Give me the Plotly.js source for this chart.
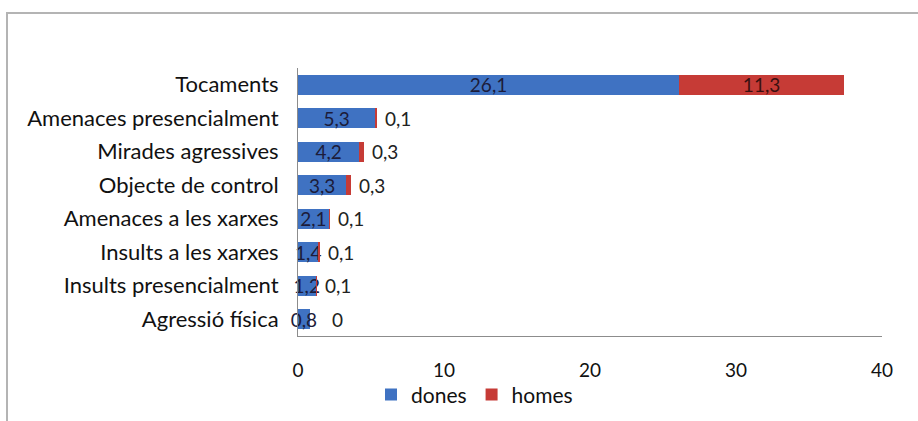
<!DOCTYPE html>
<html><head><meta charset="utf-8">
<script src="https://cdn.plot.ly/plotly-3.0.1.min.js"></script>
<style>
body{margin:0;background:#fff;}
#wrap{position:absolute;left:6px;top:12px;width:912px;height:409px;border-left:2px solid #b4b4b4;border-top:2px solid #b4b4b4;}
#chart{width:910px;height:407px;}
</style></head>
<body><div id="wrap"><div id="chart"></div></div>
<script>
const categories = ["Tocaments","Amenaces presencialment","Mirades agressives","Objecte de control","Amenaces a les xarxes","Insults a les xarxes","Insults presencialment","Agressió física"];
const dones = [26.1,5.3,4.2,3.3,2.1,1.4,1.2,0.8];
const homes = [11.3,0.1,0.3,0.3,0.1,0.1,0.1,0];
const fmt = v => String(v).replace('.', ',');
const font = "Lato, 'Open Sans', sans-serif";
const numSize = 19;
const traces = [
 {type:'bar', orientation:'h', name:'dones', y:categories, x:dones,
  marker:{color:'#3f72c2'}, text:dones.map(fmt), textposition:'inside',
  insidetextanchor:'middle', textangle:0, constraintext:'none', cliponaxis:false,
  textfont:{family:font,size:numSize,color:'#1c1c3a'}, hoverinfo:'x+y'},
 {type:'bar', orientation:'h', name:'homes', y:categories, x:homes,
  marker:{color:'#c63b36'}, text:homes.map((v,i)=> i===0 ? fmt(v) : ''),
  textposition:'inside', insidetextanchor:'middle', textangle:0, constraintext:'none', cliponaxis:false,
  textfont:{family:font,size:numSize,color:'#3a1010'}, hoverinfo:'x+y'}
];
// labels of small "homes" segments sit just right of the stack end
const annotations = categories.slice(1).map((c,k)=>{
  const i = k+1;
  return {x: dones[i]+homes[i], y: c, xref:'x', yref:'y', text: fmt(homes[i]),
    showarrow:false, xanchor:'left', yanchor:'middle', xshift: i===7 ? 20 : 6,
    font:{family:font,size:numSize,color:'#222'}};
});
const layout = {
 barmode:'stack', bargap:0.4,
 width:910, height:407,
 margin:{l:290,r:36,t:54,b:85,autoexpand:false},
 paper_bgcolor:'#fff', plot_bgcolor:'#fff',
 font:{family:font,size:22,color:'#111'},
 showlegend:true,
 annotations: annotations,
 legend:{orientation:'h', x:0.125, xanchor:'left', y:-0.22, yanchor:'middle',
   bgcolor:'rgba(0,0,0,0)',
   font:{family:font,size:21,color:'#111'}, traceorder:'normal', itemwidth:30},
 xaxis:{range:[0,40], dtick:10, showgrid:false, zeroline:false, showline:true,
   linecolor:'#8c8c8c', linewidth:1, ticks:'', ticklabelstandoff:17,
   tickfont:{family:font,size:numSize,color:'#111'}, fixedrange:true},
 yaxis:{categoryorder:'array', categoryarray:categories, autorange:'reversed',
   showgrid:false, zeroline:false, showline:true, linecolor:'#8c8c8c', linewidth:1,
   ticks:'', ticklabelstandoff:14, tickfont:{family:font,size:22,color:'#111'}, fixedrange:true}
};
Plotly.newPlot('chart', traces, layout, {displayModeBar:false, staticPlot:true});
</script></body></html>
